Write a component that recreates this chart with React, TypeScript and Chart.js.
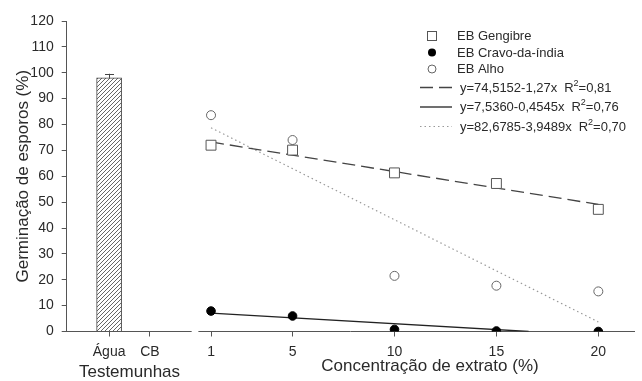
import { useEffect, useRef } from 'react';
import { Chart, registerables } from 'chart.js';

Chart.register(...registerables);

// ---- data ----
const controlLabels = ['Água', 'CB'];
const controlX = [-4, -2];
const controlValues = [98, 0];
const controlErrors = [1.6, 0];

const concentrations = [1, 5, 10, 15, 20];
const gengibre = [72, 70.1, 61.3, 57.2, 47.2];
const cravo = [7.9, 6.0, 0.8, 0.2, 0];
const alho = [83.6, 74, 21.5, 17.7, 15.5];

const seriesLabels = ['EB Gengibre', 'EB Cravo-da-índia', 'EB Alho'];
const fitIntercepts = [74.5152, 7.536, 82.6785];
const fitSlopes = [-1.27, -0.4545, -3.9489];
const fitLabels = ['y=74,5152-1,27x', 'y=7,5360-0,4545x', 'y=82,6785-3,9489x'];
const fitR2 = ['=0,81', '=0,76', '=0,70'];

const yTickValues = [0, 10, 20, 30, 40, 50, 60, 70, 80, 90, 100, 110, 120];
const xTickValues = [-4, -2, 1, 5, 10, 15, 20];
const xTickLabels = ['Água', 'CB', '1', '5', '10', '15', '20'];
const axisBreak = [0.05, 0.38];

const FONT = '"Liberation Sans", Arial, sans-serif';
const AXIS = '#555';
const TEXT = '#2a2a2a';

function fitLine(i: number) {
  const a = fitIntercepts[i];
  const b = fitSlopes[i];
  const x0 = concentrations[0];
  const xLast = concentrations[concentrations.length - 1];
  const zero = -a / b;
  const x1 = Math.min(xLast, zero);
  return [
    { x: x0, y: a + b * x0 },
    { x: x1, y: Math.max(0, a + b * x1) },
  ];
}

function makeHatch(ctx: CanvasRenderingContext2D) {
  const s = 4;
  const c = document.createElement('canvas');
  c.width = s;
  c.height = s;
  const g = c.getContext('2d')!;
  g.fillStyle = '#fff';
  g.fillRect(0, 0, s, s);
  g.strokeStyle = '#666';
  g.lineWidth = 1;
  g.beginPath();
  g.moveTo(0, s);
  g.lineTo(s, 0);
  g.moveTo(-1, 1);
  g.lineTo(1, -1);
  g.moveTo(s - 1, s + 1);
  g.lineTo(s + 1, s - 1);
  g.stroke();
  return ctx.createPattern(c, 'repeat');
}

const extrasPlugin = {
  id: 'extras',
  afterDatasetsDraw(chart: any) {
    const { ctx, scales } = chart;
    const xs = scales.x;
    const ys = scales.y;
    // error bars
    ctx.save();
    ctx.strokeStyle = '#444';
    ctx.lineWidth = 1;
    controlX.forEach((xv, i) => {
      const e = controlErrors[i];
      if (!e) return;
      const px = Math.round(xs.getPixelForValue(xv)) + 0.5;
      const pTop = ys.getPixelForValue(controlValues[i] + e);
      const pVal = ys.getPixelForValue(controlValues[i]);
      ctx.beginPath();
      ctx.moveTo(px, pVal);
      ctx.lineTo(px, pTop);
      ctx.moveTo(px - 4.5, Math.round(pTop) + 0.5);
      ctx.lineTo(px + 4.5, Math.round(pTop) + 0.5);
      ctx.stroke();
    });
    ctx.restore();
  },
  afterDraw(chart: any) {
    const { ctx, scales, chartArea } = chart;
    const xs = scales.x;
    ctx.save();
    // axis break
    const b0 = xs.getPixelForValue(axisBreak[0]);
    const b1 = xs.getPixelForValue(axisBreak[1]);
    ctx.fillStyle = '#fff';
    ctx.fillRect(b0, chartArea.bottom - 2, b1 - b0, 4);

    // titles
    ctx.fillStyle = TEXT;
    ctx.font = `17px ${FONT}`;
    ctx.textAlign = 'center';
    ctx.textBaseline = 'middle';
    ctx.fillText('Testemunhas', (xs.getPixelForValue(controlX[0]) + xs.getPixelForValue(controlX[1])) / 2, 372);
    ctx.fillText('Concentração de extrato (%)', 430, 366);
    ctx.save();
    ctx.translate(23, (chartArea.top + chartArea.bottom) / 2);
    ctx.rotate(-Math.PI / 2);
    ctx.fillText('Germinação de esporos (%)', 0, 0);
    ctx.restore();

    // legend: markers
    const mx = 432;
    const tx = 457;
    const rows = [36, 52.5, 69];
    ctx.font = `13px ${FONT}`;
    ctx.textAlign = 'left';
    rows.forEach((ry, i) => {
      ctx.lineWidth = 1;
      if (i === 0) {
        ctx.strokeStyle = '#555';
        ctx.strokeRect(mx - 4.5, ry - 4.5, 9, 9);
      } else if (i === 1) {
        ctx.fillStyle = '#000';
        ctx.beginPath();
        ctx.arc(mx, ry, 4, 0, Math.PI * 2);
        ctx.fill();
      } else {
        ctx.strokeStyle = '#666';
        ctx.beginPath();
        ctx.arc(mx, ry, 4, 0, Math.PI * 2);
        ctx.stroke();
      }
      ctx.fillStyle = TEXT;
      ctx.fillText(seriesLabels[i], tx, ry + 0.5);
    });

    // legend: fit lines
    const lrows = [87.5, 107, 126.5];
    const styles: { dash: number[]; color: string; w: number }[] = [
      { dash: [13, 6], color: '#444', w: 1.3 },
      { dash: [], color: '#222', w: 1.3 },
      { dash: [1.5, 3], color: '#999', w: 1.2 },
    ];
    lrows.forEach((ry, i) => {
      const st = styles[i];
      ctx.save();
      ctx.strokeStyle = st.color;
      ctx.lineWidth = st.w;
      ctx.setLineDash(st.dash);
      ctx.beginPath();
      ctx.moveTo(420, ry);
      ctx.lineTo(452, ry);
      ctx.stroke();
      ctx.restore();
      ctx.fillStyle = TEXT;
      ctx.font = `13px ${FONT}`;
      let x = 460;
      ctx.fillText(fitLabels[i], x, ry + 0.5);
      x += ctx.measureText(fitLabels[i]).width + 7;
      ctx.fillText('R', x, ry + 0.5);
      x += ctx.measureText('R').width;
      ctx.font = `9px ${FONT}`;
      ctx.fillText('2', x, ry - 4);
      x += ctx.measureText('2').width;
      ctx.font = `13px ${FONT}`;
      ctx.fillText(fitR2[i], x, ry + 0.5);
    });
    ctx.restore();
  },
};

export default function App() {
  const ref = useRef<HTMLCanvasElement | null>(null);

  useEffect(() => {
    const canvas = ref.current!;
    const ctx = canvas.getContext('2d')!;
    const hatch = makeHatch(ctx);

    const pts = (ys: number[]) => concentrations.map((x, i) => ({ x, y: ys[i] }));

    const chart = new Chart(ctx, {
      type: 'scatter',
      data: {
        datasets: [
          {
            type: 'scatter',
            label: seriesLabels[0],
            data: pts(gengibre),
            pointStyle: 'rect',
            pointRadius: 7,
            pointBackgroundColor: '#fff',
            pointBorderColor: '#555',
            pointBorderWidth: 1,
            order: 1,
          },
          {
            type: 'scatter',
            label: seriesLabels[1],
            data: pts(cravo),
            pointStyle: 'circle',
            pointRadius: 4.3,
            pointBackgroundColor: '#000',
            pointBorderColor: '#000',
            pointBorderWidth: 1,
            order: 1,
          },
          {
            type: 'scatter',
            label: seriesLabels[2],
            data: pts(alho),
            pointStyle: 'circle',
            pointRadius: 4.5,
            pointBackgroundColor: '#fff',
            pointBorderColor: '#666',
            pointBorderWidth: 1,
            order: 1,
          },
          {
            type: 'line',
            label: fitLabels[0],
            data: fitLine(0),
            borderColor: '#444',
            borderWidth: 1.3,
            borderDash: [13, 6],
            pointRadius: 0,
            fill: false,
            order: 2,
          },
          {
            type: 'line',
            label: fitLabels[1],
            data: fitLine(1),
            borderColor: '#222',
            borderWidth: 1.3,
            pointRadius: 0,
            fill: false,
            order: 2,
          },
          {
            type: 'line',
            label: fitLabels[2],
            data: fitLine(2),
            borderColor: '#999',
            borderWidth: 1.2,
            borderDash: [1.5, 3],
            pointRadius: 0,
            fill: false,
            order: 2,
          },
          {
            type: 'bar',
            label: 'Testemunhas',
            data: controlX.map((x, i) => ({ x, y: controlValues[i] })) as any,
            backgroundColor: hatch as any,
            borderColor: '#444',
            borderWidth: 1,
            barThickness: 25,
            order: 3,
          } as any,
        ],
      },
      options: {
        animation: false,
        responsive: false,
        maintainAspectRatio: false,
        layout: { padding: { top: 21, right: 2, left: 0, bottom: 0 } },
        plugins: {
          legend: { display: false },
          tooltip: { enabled: false },
          title: { display: false },
        },
        scales: {
          x: {
            type: 'linear',
            min: -6.08,
            max: 21.75,
            offset: false,
            grid: { display: true, drawOnChartArea: false, drawTicks: true, tickLength: 5, color: AXIS, offset: false },
            border: { display: true, color: AXIS, width: 1 },
            afterBuildTicks: (scale: any) => {
              scale.ticks = xTickValues.map((v) => ({ value: v }));
            },
            afterFit: (scale: any) => {
              scale.height = 49.5;
            },
            ticks: {
              autoSkip: false,
              maxRotation: 0,
              padding: 7,
              color: TEXT,
              font: { family: FONT, size: 14 },
              callback: (_v: any, i: number) => xTickLabels[i],
            },
          },
          y: {
            type: 'linear',
            min: 0,
            max: 120,
            grid: { display: true, drawOnChartArea: false, drawTicks: true, tickLength: 5, color: AXIS },
            border: { display: true, color: AXIS, width: 1 },
            afterBuildTicks: (scale: any) => {
              scale.ticks = yTickValues.map((v) => ({ value: v }));
            },
            afterFit: (scale: any) => {
              scale.width = 66.7;
            },
            ticks: {
              padding: 8,
              color: TEXT,
              font: { family: FONT, size: 14 },
              callback: (v: any) => String(v),
            },
          },
        },
      },
      plugins: [extrasPlugin],
    });

    return () => chart.destroy();
  }, []);

  return (
    <div style={{ position: 'fixed', left: 0, top: 0, width: 642, height: 381, background: '#fff' }}>
      <canvas ref={ref} width={642} height={381} style={{ width: 642, height: 381, display: 'block' }} />
    </div>
  );
}
